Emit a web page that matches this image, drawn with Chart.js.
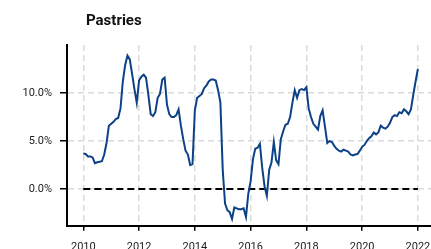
<!DOCTYPE html>
<html>
<head>
<meta charset="utf-8">
<script src="https://cdn.jsdelivr.net/npm/chart.js@4"></script>
<style>
  html, body { margin: 0; padding: 0; background: #fff; overflow: hidden; }
  #wrap { position: relative; width: 431px; height: 249px; overflow: hidden; }
  #title { position: absolute; left: 86px; top: 11px; font: bold 15px Roboto, sans-serif; color: #111; }
  canvas { position: absolute; left: 0; top: 0; }
</style>
</head>
<body>
<div id="wrap">
  <canvas id="chart1" width="431" height="264"></canvas>
  <div id="title">Pastries</div>
</div>
<script>
// monthly year-on-year change, Jan 2010 .. Jan 2022
const startYear = 2010
const pastries = [
  3.7, 3.65, 3.4, 3.4, 3.3, 2.7, 2.8, 2.85, 2.9, 3.6, 4.8, 6.6,        // 2010
  6.8, 7.0, 7.3, 7.4, 8.4, 11.2, 12.9, 13.9, 13.5, 12.0, 10.4, 9.0,    // 2011
  11.3, 11.7, 11.9, 11.6, 9.8, 7.8, 7.6, 8.0, 9.5, 9.9, 11.4, 11.6,    // 2012
  8.8, 7.8, 7.5, 7.5, 7.7, 8.3, 6.6, 5.2, 4.0, 3.6, 2.5, 2.6,          // 2013
  8.2, 9.5, 9.7, 9.9, 10.5, 10.8, 11.2, 11.4, 11.4, 11.3, 10.3, 9.0,   // 2014
  2.0, -1.5, -2.2, -2.4, -3.1, -1.9, -2.0, -2.1, -2.1, -2.0, -2.9, -0.5, // 2015
  0.8, 3.1, 4.2, 4.3, 4.7, 2.2, 0.3, -0.7, 2.0, 2.8, 4.9, 3.0,         // 2016
  2.6, 5.2, 6.0, 6.7, 6.8, 7.5, 9.0, 10.3, 9.5, 10.3, 10.4, 10.3,      // 2017
  10.6, 8.4, 7.5, 6.8, 6.5, 6.2, 7.6, 8.2, 6.5, 4.8, 5.0, 4.9,         // 2018
  4.5, 4.2, 4.0, 3.9, 4.1, 4.0, 3.9, 3.6, 3.5, 3.6, 3.65, 4.0,         // 2019
  4.4, 4.6, 5.0, 5.3, 5.5, 5.9, 5.7, 5.9, 6.6, 6.4, 6.3, 6.5,          // 2020
  6.9, 7.5, 7.7, 7.6, 8.0, 7.9, 8.3, 8.1, 7.8, 8.3, 9.8, 11.2,         // 2021
  12.5                                                                 // 2022
]
const xTicks = [2010, 2012, 2014, 2016, 2018, 2020, 2022]
const yTicks = [0, 5, 10]
const zeroLine = [0, 0]

const points = pastries.map((v, i) => ({ x: startYear + i / 12, y: v }))
const zeroPoints = [{ x: 2010, y: zeroLine[0] }, { x: 2022, y: zeroLine[1] }]

const tickFont = { family: 'Roboto', size: 11 }

const config1 = {
  type: 'line',
  data: {
    datasets: [{
      data: points,
      borderColor: '#0c4285',
      borderWidth: 2,
      pointRadius: 0,
      tension: 0
    }, {
      data: zeroPoints,
      borderColor: '#000',
      borderWidth: 2,
      borderDash: [7, 4],
      pointRadius: 0
    }]
  },
  options: {
    responsive: false,
    animation: false,
    layout: { padding: { top: 45, left: 0, right: 0, bottom: 0 } },
    scales: {
      x: {
        type: 'linear',
        min: 2009.415,
        max: 2022.47,
        afterBuildTicks: function (scale) {
          scale.ticks = xTicks.map(v => ({ value: v }))
        },
        afterFit: function (scale) {
          scale.paddingLeft = 0
          scale.paddingRight = 0
        },
        ticks: {
          color: '#222',
          font: tickFont,
          padding: 10,
          maxRotation: 0,
          callback: v => String(v)
        },
        grid: {
          color: '#dadada',
          lineWidth: 1.5,
          tickColor: '#000',
          tickLength: 5,
          tickWidth: 1.5,
          tickBorderDash: []
        },
        border: { color: '#000', width: 2, dash: [6, 4] }
      },
      y: {
        min: -3.82,
        max: 15.0,
        afterBuildTicks: function (scale) {
          scale.ticks = yTicks.map(v => ({ value: v }))
        },
        afterFit: function (scale) {
          scale.width = 67
        },
        ticks: {
          color: '#222',
          font: tickFont,
          padding: 8,
          callback: v => v.toFixed(1) + '%'
        },
        grid: {
          color: '#dadada',
          lineWidth: 1.5,
          tickColor: '#000',
          tickLength: 7,
          tickWidth: 1.5,
          tickBorderDash: []
        },
        border: { color: '#000', width: 2, dash: [6, 4] }
      }
    },
    plugins: {
      legend: { display: false },
      title: { display: false },
      tooltip: { enabled: false }
    }
  }
}

var myChart1 = new Chart(document.getElementById('chart1'), config1)
</script>
</body>
</html>
